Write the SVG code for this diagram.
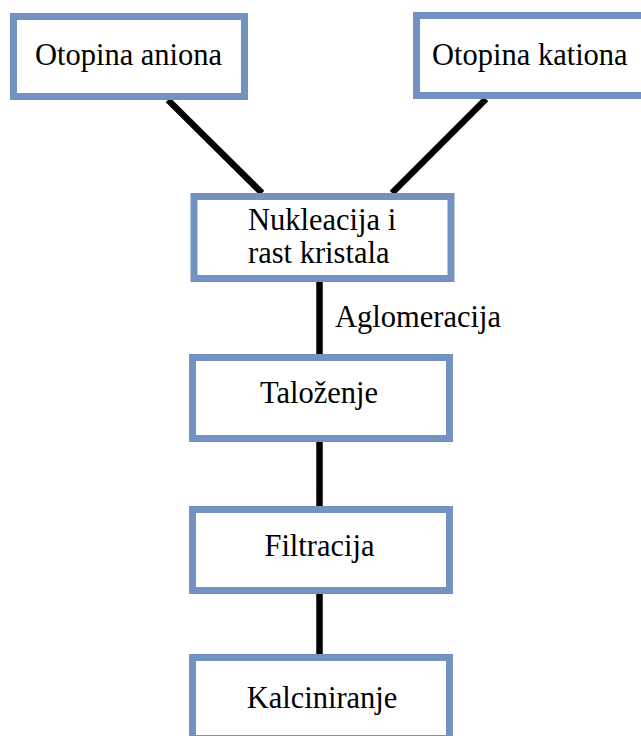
<svg xmlns="http://www.w3.org/2000/svg" width="641" height="736" viewBox="0 0 641 736">
<style>
.box{fill:#fff;stroke:#7293C1;stroke-width:7}
.t{font-family:"Liberation Serif","Times New Roman",Tinos,serif;font-size:30.5px;fill:#000}
.c{text-anchor:middle}
.ln{stroke:#000;stroke-width:6.5;fill:none}
</style>
<rect width="641" height="736" fill="#fff"/>
<g id="connectors">
<line class="ln" x1="168" y1="100" x2="262" y2="193"/>
<line class="ln" x1="486" y1="99" x2="392" y2="193"/>
<line class="ln" x1="319.5" y1="282" x2="319.5" y2="354"/>
<line class="ln" x1="319.5" y1="442" x2="319.5" y2="506"/>
<line class="ln" x1="319.5" y1="594" x2="319.5" y2="654"/>
<text class="t" x="335" y="327">Aglomeracija</text>
</g>
<g id="anion">
<rect class="box" x="13.5" y="16.5" width="231" height="80"/>
<text class="t c" x="128.5" y="65">Otopina aniona</text>
</g>
<g id="kation">
<rect class="box" x="416.5" y="15.5" width="231" height="80"/>
<text class="t" x="432" y="65">Otopina kationa</text>
</g>
<g id="nukleacija">
<rect class="box" x="194" y="196.5" width="257" height="82"/>
<text class="t" x="248" y="230">Nukleacija i</text>
<text class="t" x="248" y="263">rast kristala</text>
</g>
<g id="talozenje">
<rect class="box" x="192.5" y="357.5" width="257" height="81"/>
<text class="t c" x="319" y="403">Taloženje</text>
</g>
<g id="filtracija">
<rect class="box" x="192.5" y="509.5" width="257" height="81"/>
<text class="t c" x="319.5" y="556">Filtracija</text>
</g>
<g id="kalciniranje">
<rect class="box" x="192.5" y="657.5" width="257" height="81"/>
<text class="t c" x="322" y="708">Kalciniranje</text>
</g>
</svg>
